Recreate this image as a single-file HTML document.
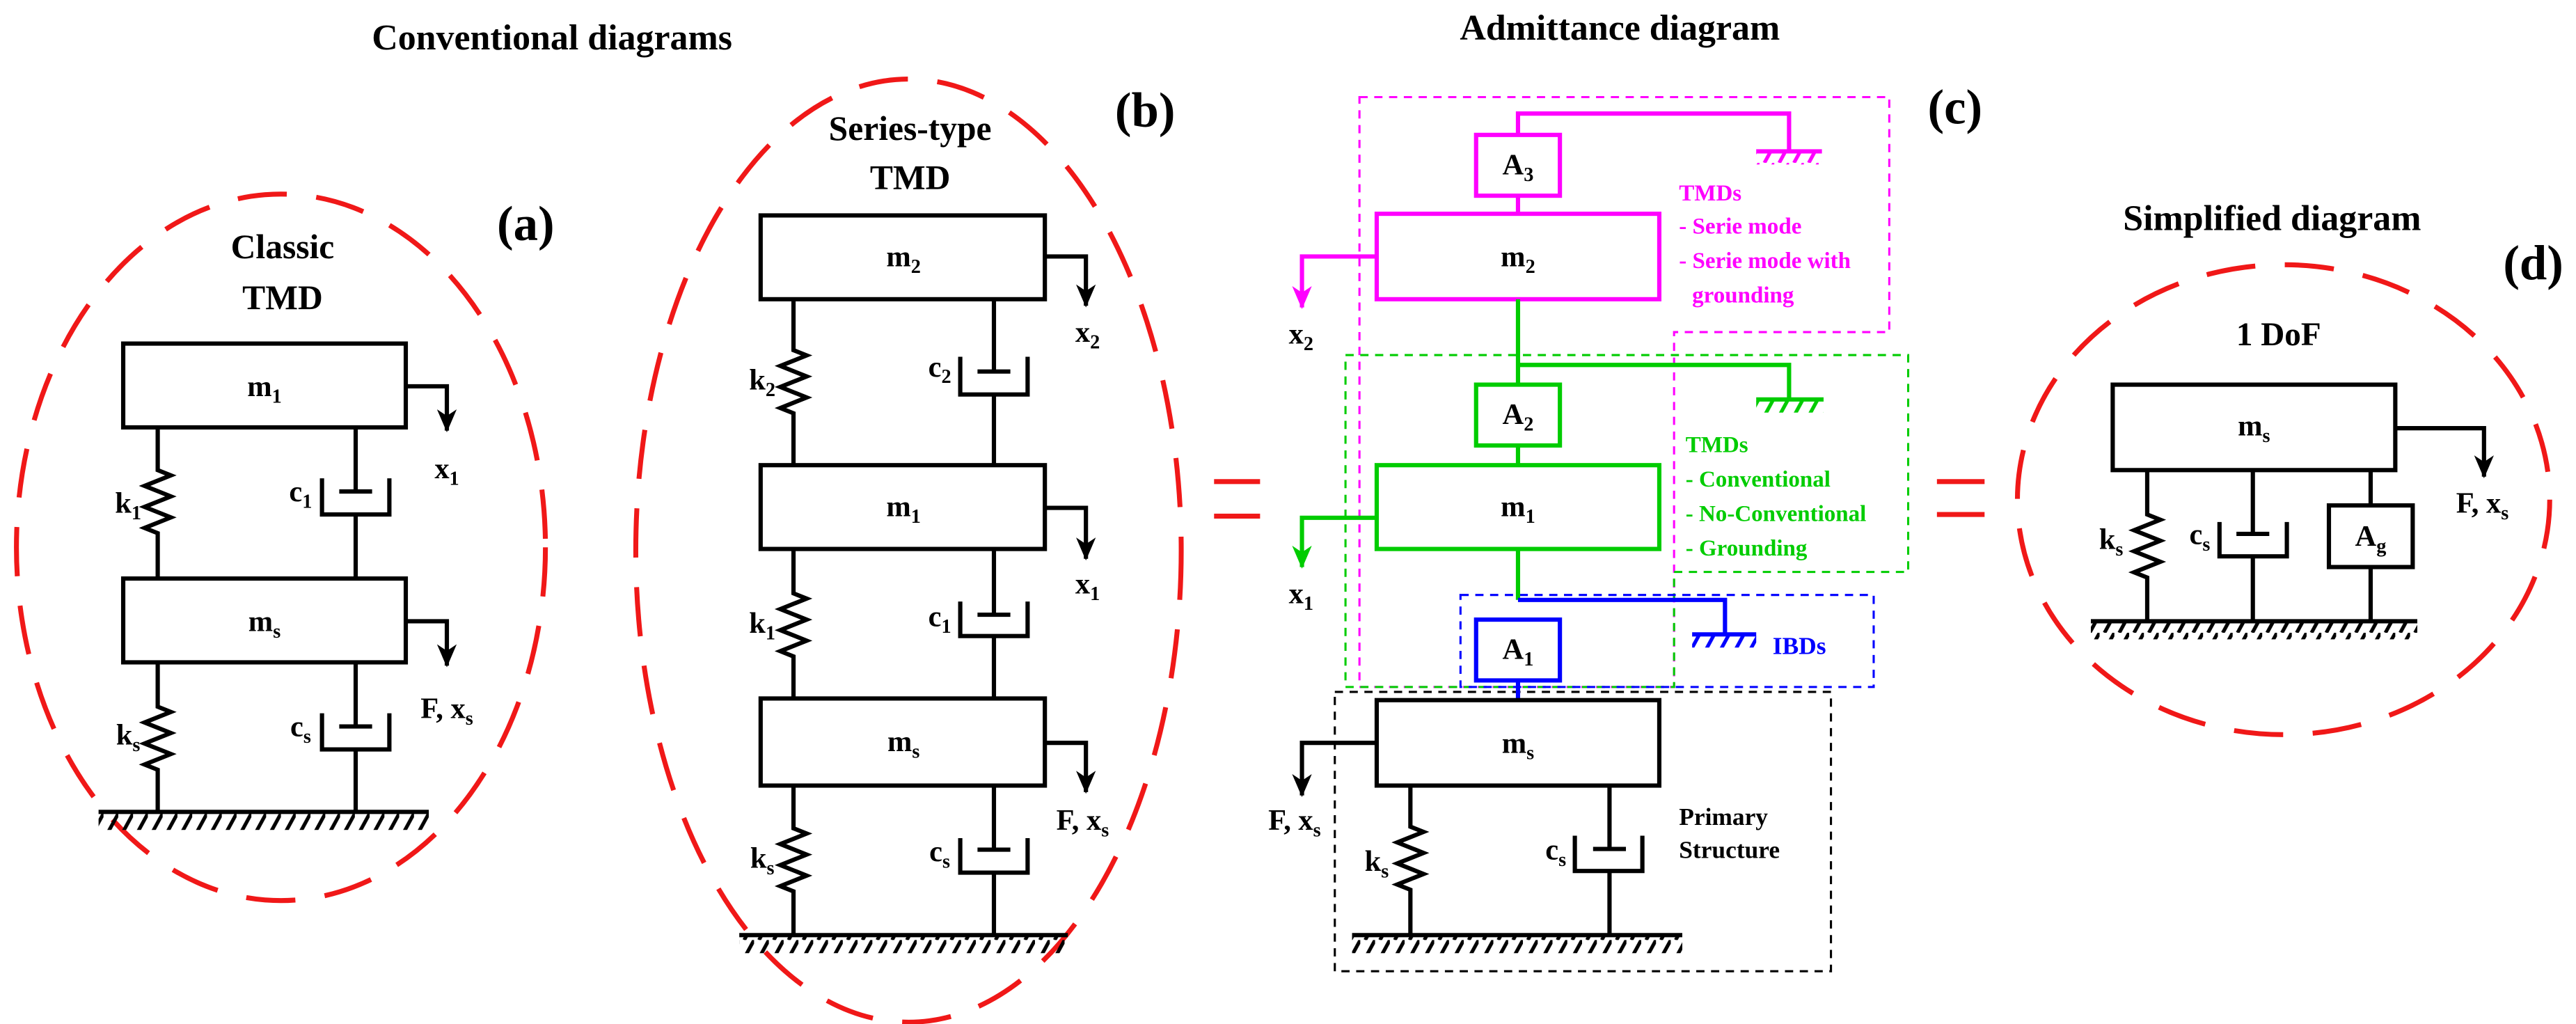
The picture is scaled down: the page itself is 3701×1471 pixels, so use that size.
<!DOCTYPE html>
<html><head><meta charset="utf-8"><style>
html,body{margin:0;padding:0;background:#fff;}
svg{display:block;}
text{font-family:"Liberation Serif",serif;font-weight:bold;}
</style></head><body>
<svg width="3701" height="1471" viewBox="0 0 1568 623" xmlns="http://www.w3.org/2000/svg">
<defs>
<pattern id="hk" patternUnits="userSpaceOnUse" width="9" height="11"><line x1="9" y1="0" x2="3" y2="11" stroke="#000" stroke-width="2.2"/></pattern>
<pattern id="hm" patternUnits="userSpaceOnUse" width="9" height="11"><line x1="9" y1="0" x2="3" y2="11" stroke="#ff00ff" stroke-width="2.2"/></pattern>
<pattern id="hg" patternUnits="userSpaceOnUse" width="9" height="11"><line x1="9" y1="0" x2="3" y2="11" stroke="#00cc00" stroke-width="2.2"/></pattern>
<pattern id="hb" patternUnits="userSpaceOnUse" width="9" height="11"><line x1="9" y1="0" x2="3" y2="11" stroke="#0000ff" stroke-width="2.2"/></pattern>
<marker id="ak" markerWidth="12" markerHeight="14" refX="6" refY="13" orient="0" markerUnits="userSpaceOnUse"><path d="M0,0 L6,4 L12,0 L6,14 Z" fill="#000"/></marker>
<marker id="am" markerWidth="12" markerHeight="14" refX="6" refY="13" orient="0" markerUnits="userSpaceOnUse"><path d="M0,0 L6,4 L12,0 L6,14 Z" fill="#ff00ff"/></marker>
<marker id="ag" markerWidth="12" markerHeight="14" refX="6" refY="13" orient="0" markerUnits="userSpaceOnUse"><path d="M0,0 L6,4 L12,0 L6,14 Z" fill="#00cc00"/></marker>
</defs>

<text x="336" y="30" font-size="22" text-anchor="middle">Conventional diagrams</text>
<text x="986" y="24" font-size="22" text-anchor="middle">Admittance diagram</text>
<text x="1383" y="140" font-size="22" text-anchor="middle">Simplified diagram</text>

<g fill="none" stroke="#f01818" stroke-width="3" stroke-dasharray="30 18">
<ellipse cx="171" cy="333" rx="161" ry="215"/>
<ellipse cx="553" cy="335" rx="166" ry="287"/>
<ellipse cx="1390" cy="304" rx="162" ry="143"/>
</g>
<g stroke="#f01818" stroke-width="3">
<line x1="739" y1="293" x2="767" y2="293"/><line x1="739" y1="314" x2="767" y2="314"/>
<line x1="1179" y1="293" x2="1208" y2="293"/><line x1="1179" y1="313" x2="1208" y2="313"/>
</g>

<text x="320" y="146" font-size="30" text-anchor="middle">(a)</text>
<text x="697" y="77" font-size="30" text-anchor="middle">(b)</text>
<text x="1190" y="75" font-size="30" text-anchor="middle">(c)</text>
<text x="1542" y="170" font-size="30" text-anchor="middle">(d)</text>

<!-- Panel a -->
<text x="172" y="157" font-size="21" text-anchor="middle">Classic</text>
<text x="172" y="188" font-size="21" text-anchor="middle">TMD</text>
<g fill="none" stroke="#000" stroke-width="2.6">
<rect x="75" y="209" width="172" height="51" fill="#fff"/>
<rect x="75" y="352" width="172" height="51" fill="#fff"/>
<path d="M247,235 H272 V262" marker-end="url(#ak)"/>
<path d="M247,378 H272 V405" marker-end="url(#ak)"/>
<path d="M96,260 V286 l8,3.2 l-16,6.4 l16,6.4 l-16,6.4 l16,6.4 l-16,6.4 l8,3.2 V352"/>
<path d="M96,403 V430 l8,3.2 l-16,6.4 l16,6.4 l-16,6.4 l16,6.4 l-16,6.4 l8,3.2 V494"/>
<path d="M216.5,260 V299 M206.5,299 H226.5 M196,291 V313 H237 V291 M216.5,313 V352"/>
<path d="M216.5,403 V442 M206.5,442 H226.5 M196,434 V456 H237 V434 M216.5,456 V494"/>
<line x1="60" y1="494" x2="261" y2="494"/>
</g>
<rect x="60" y="495" width="201" height="10" fill="url(#hk)"/>
<text x="161" y="241" font-size="18" text-anchor="middle">m<tspan font-size="12" dy="4">1</tspan></text>
<text x="161" y="384" font-size="18" text-anchor="middle">m<tspan font-size="12" dy="4">s</tspan></text>
<text x="272" y="291" font-size="18" text-anchor="middle">x<tspan font-size="12" dy="4">1</tspan></text>
<text x="272" y="437" font-size="18" text-anchor="middle">F, x<tspan font-size="12" dy="4">s</tspan></text>
<text x="78" y="312" font-size="18" text-anchor="middle">k<tspan font-size="12" dy="4">1</tspan></text>
<text x="183" y="305" font-size="18" text-anchor="middle">c<tspan font-size="12" dy="4">1</tspan></text>
<text x="78" y="453" font-size="18" text-anchor="middle">k<tspan font-size="12" dy="4">s</tspan></text>
<text x="183" y="448" font-size="18" text-anchor="middle">c<tspan font-size="12" dy="4">s</tspan></text>

<!-- Panel b -->
<text x="554" y="85" font-size="21" text-anchor="middle">Series-type</text>
<text x="554" y="115" font-size="21" text-anchor="middle">TMD</text>
<g fill="none" stroke="#000" stroke-width="2.6">
<rect x="463" y="131" width="173" height="51"/>
<rect x="463" y="283" width="173" height="51"/>
<rect x="463" y="425" width="173" height="53"/>
<path d="M636,156 H661 V186" marker-end="url(#ak)"/>
<path d="M636,309 H661 V340" marker-end="url(#ak)"/>
<path d="M636,452 H661 V482" marker-end="url(#ak)"/>
<path d="M483,182 V213 l8,3.2 l-16,6.4 l16,6.4 l-16,6.4 l16,6.4 l-16,6.4 l8,3.2 V283"/>
<path d="M483,334 V361 l8,3.2 l-16,6.4 l16,6.4 l-16,6.4 l16,6.4 l-16,6.4 l8,3.2 V425"/>
<path d="M483,478 V504 l8,3.2 l-16,6.4 l16,6.4 l-16,6.4 l16,6.4 l-16,6.4 l8,3.2 V569"/>
<path d="M605,182 V226 M595,226 H615 M584.5,217 V240 H625.5 V217 M605,240 V283"/>
<path d="M605,334 V374 M595,374 H615 M584.5,366 V387 H625.5 V366 M605,387 V425"/>
<path d="M605,478 V517 M595,517 H615 M584.5,510 V531 H625.5 V510 M605,531 V569"/>
<line x1="450" y1="569" x2="650" y2="569"/>
</g>
<rect x="450" y="570" width="200" height="10" fill="url(#hk)"/>
<text x="550" y="162" font-size="18" text-anchor="middle">m<tspan font-size="12" dy="4">2</tspan></text>
<text x="550" y="314" font-size="18" text-anchor="middle">m<tspan font-size="12" dy="4">1</tspan></text>
<text x="550" y="457" font-size="18" text-anchor="middle">m<tspan font-size="12" dy="4">s</tspan></text>
<text x="662" y="208" font-size="18" text-anchor="middle">x<tspan font-size="12" dy="4">2</tspan></text>
<text x="662" y="361" font-size="18" text-anchor="middle">x<tspan font-size="12" dy="4">1</tspan></text>
<text x="659" y="505" font-size="18" text-anchor="middle">F, x<tspan font-size="12" dy="4">s</tspan></text>
<text x="464" y="237" font-size="18" text-anchor="middle">k<tspan font-size="12" dy="4">2</tspan></text>
<text x="572" y="229" font-size="18" text-anchor="middle">c<tspan font-size="12" dy="4">2</tspan></text>
<text x="464" y="385" font-size="18" text-anchor="middle">k<tspan font-size="12" dy="4">1</tspan></text>
<text x="572" y="381" font-size="18" text-anchor="middle">c<tspan font-size="12" dy="4">1</tspan></text>
<text x="464" y="528" font-size="18" text-anchor="middle">k<tspan font-size="12" dy="4">s</tspan></text>
<text x="572" y="524" font-size="18" text-anchor="middle">c<tspan font-size="12" dy="4">s</tspan></text>

<!-- Panel c -->
<g fill="none" stroke-width="1.3" stroke-dasharray="5 4">
<path d="M827.5,59 H1150 V202 H1019 V418 H827.5 Z" stroke="#ff00ff"/>
<path d="M819,216 H1161.5 V348 H1019 V418 H819 Z" stroke="#00cc00"/>
<rect x="889" y="362" width="251.5" height="56" stroke="#0000ff"/>
<rect x="812.5" y="421" width="302" height="170" stroke="#000"/>
</g>
<g fill="none" stroke="#ff00ff" stroke-width="2.6">
<rect x="898.5" y="82" width="51" height="37"/>
<rect x="838" y="130" width="172" height="52"/>
<path d="M924,82 V69 H1089 V92 M1069,92 H1109"/>
<path d="M924,119 V130"/>
<path d="M838,156 H792.5 V187" marker-end="url(#am)"/>
</g>
<rect x="1069" y="93" width="40" height="7" fill="url(#hm)"/>
<g fill="none" stroke="#00cc00" stroke-width="2.6">
<path d="M924,182 V234"/>
<path d="M924,222 H1089 V243 M1069,243 H1110"/>
<rect x="898.5" y="234" width="51" height="37"/>
<path d="M924,271 V283"/>
<rect x="838" y="283" width="172" height="51"/>
<path d="M838,315 H792.5 V345" marker-end="url(#ag)"/>
<path d="M924,334 V365"/>
</g>
<rect x="1069" y="244" width="41" height="7" fill="url(#hg)"/>
<g fill="none" stroke="#0000ff" stroke-width="2.6">
<path d="M924,365 H1050 V386 M1030,386 H1069"/>
<rect x="898.5" y="377" width="51" height="37"/>
<path d="M924,414 V426"/>
</g>
<rect x="1030" y="387" width="39" height="7" fill="url(#hb)"/>
<g fill="none" stroke="#000" stroke-width="2.6">
<rect x="838" y="426" width="172" height="52"/>
<path d="M838,452 H792.5 V484" marker-end="url(#ak)"/>
<path d="M858.5,478 V503 l8,3.2 l-16,6.4 l16,6.4 l-16,6.4 l16,6.4 l-16,6.4 l8,3.2 V569"/>
<path d="M979.7,478 V516.6 M969.7,516.6 H989.7 M958.6,508.5 V530 H999.7 V508.5 M979.7,530 V569"/>
<line x1="823" y1="569" x2="1024" y2="569"/>
</g>
<rect x="823" y="570" width="201" height="10" fill="url(#hk)"/>
<text x="924" y="162" font-size="18" text-anchor="middle">m<tspan font-size="12" dy="4">2</tspan></text>
<text x="924" y="314" font-size="18" text-anchor="middle">m<tspan font-size="12" dy="4">1</tspan></text>
<text x="924" y="458" font-size="18" text-anchor="middle">m<tspan font-size="12" dy="4">s</tspan></text>
<text x="924" y="106" font-size="18" text-anchor="middle">A<tspan font-size="12" dy="4">3</tspan></text>
<text x="924" y="258" font-size="18" text-anchor="middle">A<tspan font-size="12" dy="4">2</tspan></text>
<text x="924" y="401" font-size="18" text-anchor="middle">A<tspan font-size="12" dy="4">1</tspan></text>
<text x="792" y="209" font-size="18" text-anchor="middle">x<tspan font-size="12" dy="4">2</tspan></text>
<text x="792" y="367" font-size="18" text-anchor="middle">x<tspan font-size="12" dy="4">1</tspan></text>
<text x="788" y="505" font-size="18" text-anchor="middle">F, x<tspan font-size="12" dy="4">s</tspan></text>
<text x="838" y="530" font-size="18" text-anchor="middle">k<tspan font-size="12" dy="4">s</tspan></text>
<text x="947" y="523" font-size="18" text-anchor="middle">c<tspan font-size="12" dy="4">s</tspan></text>
<g font-size="14" fill="#ff00ff">
<text x="1022" y="122">TMDs</text>
<text x="1022" y="142">- Serie mode</text>
<text x="1022" y="163">- Serie mode with</text>
<text x="1030" y="184">grounding</text>
</g>
<g font-size="14" fill="#00cc00">
<text x="1026" y="275">TMDs</text>
<text x="1026" y="296">- Conventional</text>
<text x="1026" y="317">- No-Conventional</text>
<text x="1026" y="338">- Grounding</text>
</g>
<text x="1079" y="398" font-size="15" fill="#0000ff">IBDs</text>
<text x="1022" y="502" font-size="15">Primary</text>
<text x="1022" y="522" font-size="15">Structure</text>

<!-- Panel d -->
<text x="1387" y="210" font-size="20" text-anchor="middle">1 DoF</text>
<g fill="none" stroke="#000" stroke-width="2.6">
<rect x="1286" y="234" width="172" height="52"/>
<path d="M1458,260.5 H1512 V290" marker-end="url(#ak)"/>
<path d="M1307,286 V313 l8,3.2 l-16,6.4 l16,6.4 l-16,6.4 l16,6.4 l-16,6.4 l8,3.2 V378"/>
<path d="M1371.3,286 V324.8 M1361.3,324.8 H1381.3 M1351,317.6 V338.5 H1392 V317.6 M1371.3,338.5 V378"/>
<rect x="1417.6" y="307.5" width="51" height="37.5"/>
<path d="M1443,286 V307.5 M1443,345 V378"/>
<line x1="1272.7" y1="378" x2="1471.4" y2="378"/>
</g>
<rect x="1272.7" y="379" width="198.7" height="10" fill="url(#hk)"/>
<text x="1372" y="265" font-size="18" text-anchor="middle">m<tspan font-size="12" dy="4">s</tspan></text>
<text x="1443" y="332" font-size="18" text-anchor="middle">A<tspan font-size="12" dy="4">g</tspan></text>
<text x="1511" y="312" font-size="18" text-anchor="middle">F, x<tspan font-size="12" dy="4">s</tspan></text>
<text x="1285" y="334" font-size="18" text-anchor="middle">k<tspan font-size="12" dy="4">s</tspan></text>
<text x="1339" y="331" font-size="18" text-anchor="middle">c<tspan font-size="12" dy="4">s</tspan></text>
</svg>
</body></html>
